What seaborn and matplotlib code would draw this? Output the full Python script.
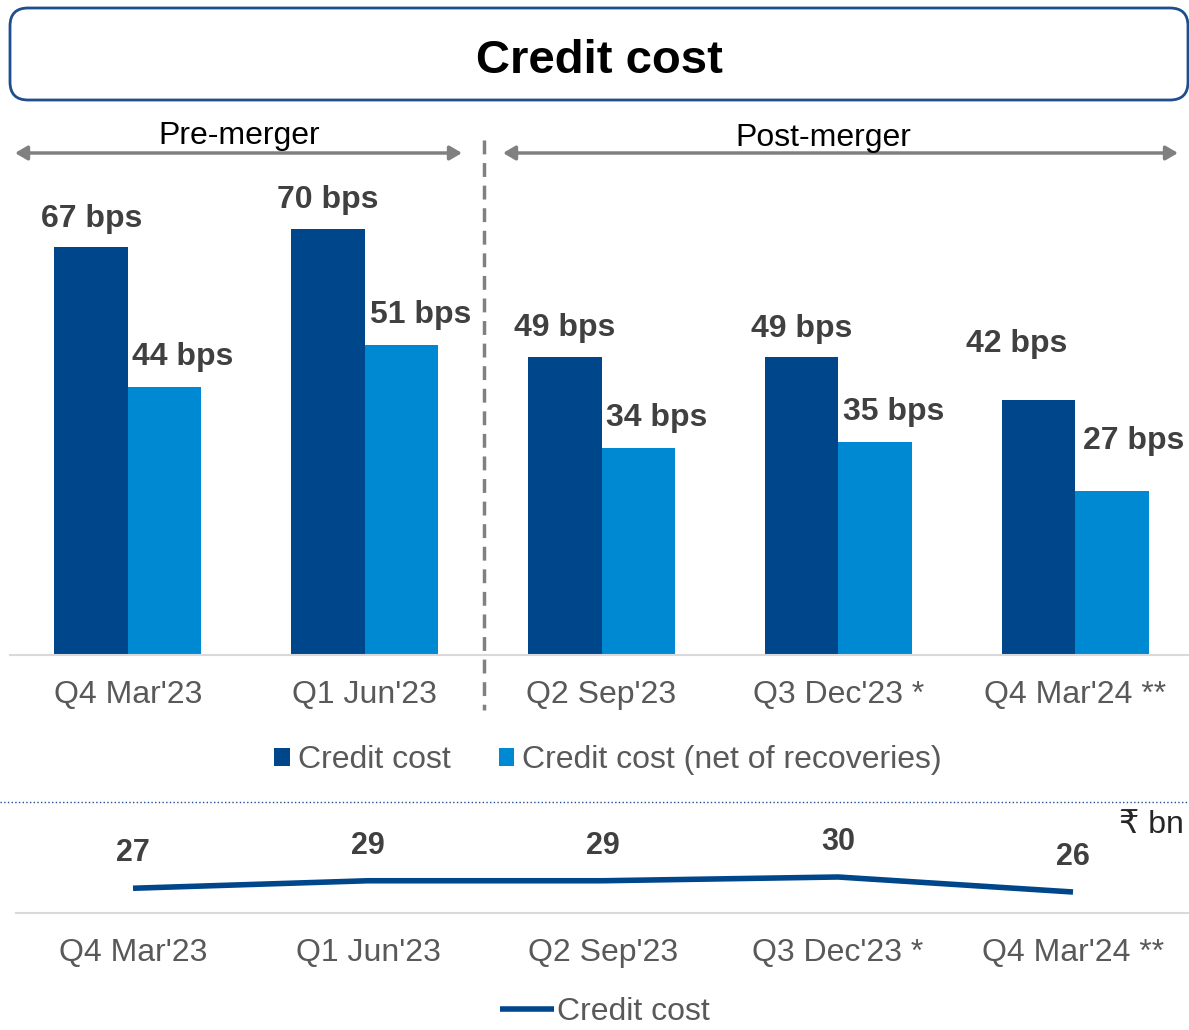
import numpy as np
import pandas as pd
import matplotlib.pyplot as plt
import seaborn as sns
from matplotlib.patches import FancyBboxPatch

quarters = ["Q4 Mar'23", "Q1 Jun'23", "Q2 Sep'23", "Q3 Dec'23 *", "Q4 Mar'24 **"]
credit_cost_bps = [67, 70, 49, 49, 42]
credit_cost_net_bps = [44, 51, 34, 35, 27]
credit_cost_bn = [27, 29, 29, 30, 26]
series_names = ["Credit cost", "Credit cost (net of recoveries)"]

DARK = "#00468B"
LIGHT = "#0089D3"
GREY_TXT = "#595959"
LABEL_TXT = "#404040"
FS = 23

sns.set_theme(style="white")
plt.rcParams['font.family'] = ['Liberation Sans', 'DejaVu Sans']

W, H = 1189, 1030
fig = plt.figure(figsize=(W / 100, H / 100), dpi=100, facecolor="white")


def frac(left, top, right, bottom):
    # pixel box -> figure fraction rect
    return [left / W, 1 - bottom / H, (right - left) / W, (bottom - top) / H]


# decoration layer in pixel coordinates
deco = fig.add_axes([0, 0, 1, 1], zorder=0)
deco.set_xlim(0, W)
deco.set_ylim(H, 0)
deco.axis("off")

box = FancyBboxPatch((10, 8), 1178, 92, boxstyle="round,pad=0,rounding_size=18",
                     fc="white", ec="#1F4E8C", lw=2)
deco.add_patch(box)
deco.text(599, 56, "Credit cost", ha="center", va="center_baseline", fontsize=34,
          fontweight="bold", color="black")

arrow_kw = dict(arrowstyle="<|-|>,head_length=0.6,head_width=0.35", color="#808080", lw=2.5,
                shrinkA=0, shrinkB=0)
deco.annotate("", xy=(15, 153), xytext=(462, 153), arrowprops=arrow_kw)
deco.annotate("", xy=(503, 153), xytext=(1178, 153), arrowprops=arrow_kw)
deco.text(239, 136, "Pre-merger", ha="center", va="center", fontsize=FS, color="black")
deco.text(823, 138, "Post-merger", ha="center", va="center", fontsize=FS, color="black")
deco.plot([484, 484], [140, 710], color="#808080", lw=2.5, ls=(0, (4, 2.5)))
deco.plot([0, W], [802, 802], color="#1F4E8C", lw=1, ls=":")
deco.text(1184, 825, "₹ bn", ha="right", va="center", fontsize=FS, color="#262626")

# top bar chart
df = pd.DataFrame({
    "quarter": quarters * 2,
    "value": credit_cost_bps + credit_cost_net_bps,
    "series": [series_names[0]] * 5 + [series_names[1]] * 5,
})
ax = fig.add_axes(frac(9.5, 138, 1193.5, 655), zorder=1)
ax.patch.set_visible(False)
sns.barplot(data=df, x="quarter", y="value", hue="series", palette=[DARK, LIGHT],
            width=0.62, saturation=1, linewidth=0, ax=ax)
ax.set_ylim(0, 85)
ax.set_xlim(-0.5, 4.5)
ax.set_xlabel("")
ax.set_ylabel("")
ax.set_yticks([])
for s in ["top", "left", "right"]:
    ax.spines[s].set_visible(False)
ax.spines["bottom"].set_color("#D9D9D9")
ax.spines["bottom"].set_linewidth(1.5)
ax.tick_params(axis="x", length=0, pad=18, labelsize=FS, labelcolor=GREY_TXT)

offsets = [
    [(0, 28), (0, 29), (0, 29), (0, 28), (-22, 56)],
    [(18, 30), (19, 30), (18, 30), (19, 30), (22, 50)],
]
for ci, cont in enumerate(ax.containers):
    vals = [credit_cost_bps, credit_cost_net_bps][ci]
    for bi, bar in enumerate(cont):
        cx = bar.get_x() + bar.get_width() / 2
        ax.annotate(f"{vals[bi]} bps", xy=(cx, bar.get_height()),
                    xytext=offsets[ci][bi], textcoords="offset pixels",
                    ha="center", va="center", fontsize=FS, fontweight="bold",
                    color=LABEL_TXT, annotation_clip=False)

handles, labels = ax.get_legend_handles_labels()
ax.legend(handles, labels, loc="center", bbox_to_anchor=(608 / W, 1 - 760 / H),
          bbox_transform=fig.transFigure, ncol=2, frameon=False, fontsize=FS,
          handlelength=0.5, handleheight=0.5, handletextpad=0.25, columnspacing=1.5,
          labelcolor=GREY_TXT)

# bottom line chart
df2 = pd.DataFrame({"quarter": quarters, "value": credit_cost_bn})
ax2 = fig.add_axes(frac(15.5, 820, 1190.5, 913), zorder=1)
ax2.patch.set_visible(False)
sns.lineplot(data=df2, x="quarter", y="value", color=DARK, lw=4, sort=False,
             label="Credit cost", ax=ax2, solid_capstyle="butt")
ax2.set_ylim(20.4, 45.2)
ax2.set_xlim(-0.5, 4.5)
ax2.set_xlabel("")
ax2.set_ylabel("")
ax2.set_yticks([])
for s in ["top", "left", "right"]:
    ax2.spines[s].set_visible(False)
ax2.spines["bottom"].set_color("#D9D9D9")
ax2.spines["bottom"].set_linewidth(1.5)
ax2.tick_params(axis="x", length=0, pad=18, labelsize=FS, labelcolor=GREY_TXT)
for i, v in enumerate(credit_cost_bn):
    ax2.annotate(str(v), xy=(i, v), xytext=(0, 35), textcoords="offset pixels",
                 ha="center", va="center", fontsize=22, fontweight="bold",
                 color=LABEL_TXT, annotation_clip=False)
ax2.legend(loc="center", bbox_to_anchor=(605 / W, 1 - 1012 / H),
           bbox_transform=fig.transFigure, frameon=False, fontsize=FS,
           handlelength=1.7, handletextpad=0.1, labelcolor=GREY_TXT)

fig.savefig("out.png", dpi=100, facecolor="white")
